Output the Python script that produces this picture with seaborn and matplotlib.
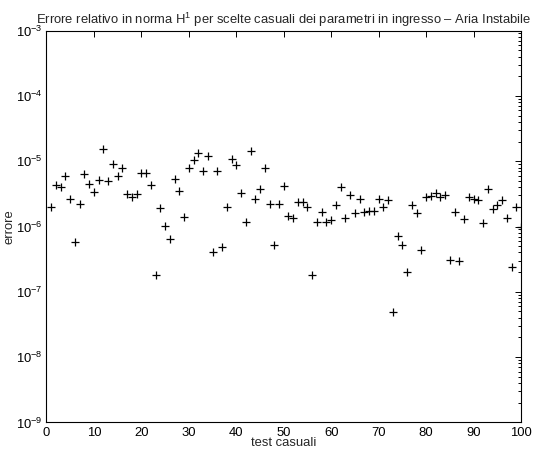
import numpy as np
import pandas as pd
import matplotlib
matplotlib.use("Agg")
import matplotlib.pyplot as plt
import seaborn as sns

tests = list(range(1, 101))
errors = [
    2.01e-6, 4.27e-6, 3.98e-6, 5.99e-6, 2.64e-6, 5.73e-7, 2.23e-6, 6.36e-6, 4.47e-6, 3.41e-6,
    5.09e-6, 1.55e-5, 4.97e-6, 8.95e-6, 5.93e-6, 7.86e-6, 3.11e-6, 2.86e-6, 3.14e-6, 6.59e-6,
    6.59e-6, 4.36e-6, 1.81e-7, 1.92e-6, 1.01e-6, 6.44e-7, 5.39e-6, 3.46e-6, 1.38e-6, 7.94e-6,
    1.05e-5, 1.33e-5, 6.95e-6, 1.19e-5, 4.07e-7, 7.00e-6, 4.80e-7, 1.99e-6, 1.07e-5, 8.73e-6,
    3.26e-6, 1.17e-6, 1.45e-5, 2.61e-6, 3.71e-6, 7.78e-6, 2.21e-6, 5.26e-7, 2.21e-6, 4.21e-6,
    1.45e-6, 1.35e-6, 2.37e-6, 2.37e-6, 2.01e-6, 1.81e-7, 1.16e-6, 1.67e-6, 1.17e-6, 1.26e-6,
    2.13e-6, 3.98e-6, 1.36e-6, 3.07e-6, 1.63e-6, 2.61e-6, 1.67e-6, 1.71e-6, 1.73e-6, 2.64e-6,
    2.01e-6, 2.52e-6, 4.86e-8, 7.15e-7, 5.26e-7, 1.99e-7, 2.13e-6, 1.61e-6, 4.42e-7, 2.80e-6,
    2.93e-6, 3.26e-6, 2.80e-6, 3.07e-6, 3.03e-7, 1.68e-6, 3.00e-7, 1.29e-6, 2.80e-6, 2.64e-6,
    2.57e-6, 1.14e-6, 3.71e-6, 1.83e-6, 2.16e-6, 2.57e-6, 1.35e-6, 2.37e-7, 1.97e-6, 9.93e-7,
]
x_ticks = list(range(0, 101, 10))
title = "Errore relativo in norma H$^{1}$ per scelte casuali dei parametri in ingresso \u2013 Aria Instabile"

sns.set_style("white")
plt.rcParams['font.family'] = ['Liberation Sans', 'DejaVu Sans']
plt.rcParams['mathtext.fontset'] = 'custom'
plt.rcParams['mathtext.rm'] = 'Liberation Sans'
plt.rcParams['mathtext.it'] = 'Liberation Sans:italic'

df = pd.DataFrame({"test": tests, "errore": errors})

fs = 9.4
fig = plt.figure(figsize=(5.33, 4.54), dpi=100)
ax = fig.add_axes([0.0872, 0.0694, 0.8903, 0.8634])
sns.scatterplot(data=df, x="test", y="errore", marker="+", color="black",
                s=40, linewidth=0.9, ax=ax, legend=False)
ax.set_yscale("log")
ax.set_xlim(0, 100)
ax.set_ylim(1e-9, 1e-3)
ax.set_xticks(x_ticks)
ax.set_yticks([1e-9, 1e-8, 1e-7, 1e-6, 1e-5, 1e-4, 1e-3])
ax.tick_params(which="both", direction="in", top=True, right=True, labelsize=fs,
               colors="black", width=0.7)
ax.tick_params(which="major", length=4, pad=3)
ax.tick_params(which="minor", length=2.5)
ax.minorticks_on()
ax.xaxis.set_minor_locator(matplotlib.ticker.NullLocator())
for s in ax.spines.values():
    s.set_color("black")
    s.set_linewidth(0.8)
ax.set_xlabel("test casuali", fontsize=fs, labelpad=-1)
ax.set_ylabel("errore", fontsize=fs, labelpad=0)
ax.set_title(title, fontsize=fs, pad=5)
fig.savefig("out.png", dpi=100, facecolor="white")
